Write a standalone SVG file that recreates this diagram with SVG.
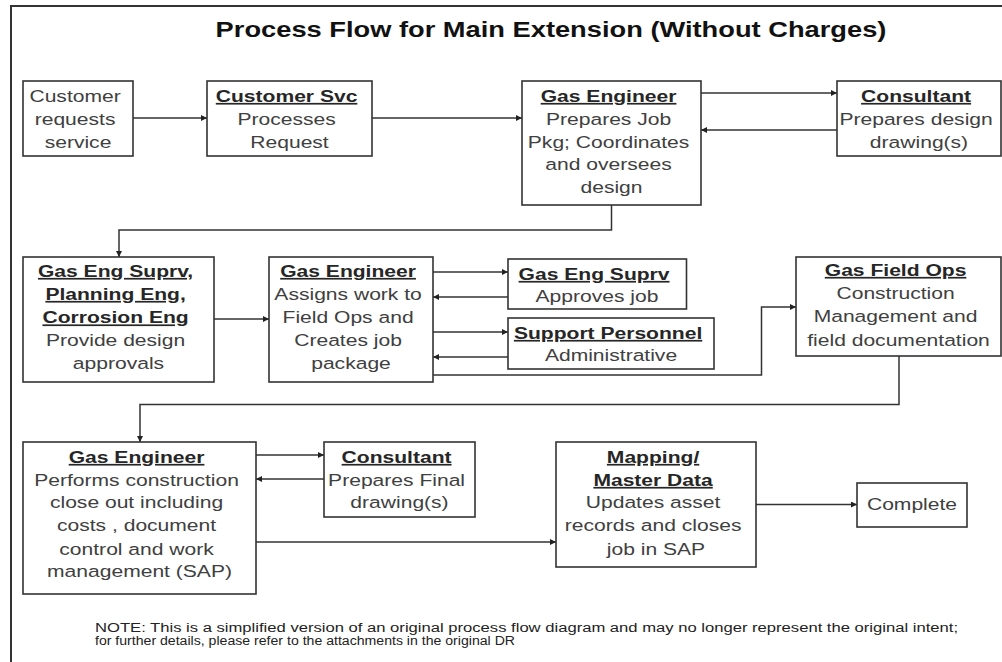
<svg xmlns="http://www.w3.org/2000/svg" width="1002" height="662" viewBox="0 0 1002 662">
  <style>
    .frame { fill: none; stroke: #333; stroke-width: 2; }
    .box { fill: #fff; stroke: #333; stroke-width: 1.6; }
    .t { font-family: "Liberation Sans", Arial, sans-serif; font-size: 17px; fill: #404040; text-anchor: middle; }
    .h { font-weight: bold; text-decoration: underline; fill: #262626; }
    .title { font-family: "Liberation Sans", Arial, sans-serif; font-size: 22px; font-weight: bold; fill: #111; text-anchor: middle; }
    .note { font-family: "Liberation Sans", Arial, sans-serif; font-size: 12.5px; fill: #222; }
    .link { fill: none; stroke: #333; stroke-width: 1.5; marker-end: url(#arrow); }
  </style>
  <defs>
    <marker id="arrow" viewBox="0 0 10 10" refX="10" refY="5" markerUnits="userSpaceOnUse" markerWidth="9" markerHeight="6" orient="auto">
      <path d="M0,0 L10,5 L0,10 z" fill="#222"/>
    </marker>
  </defs>

  <rect width="1002" height="662" fill="#fff"/>
  <path class="frame" d="M11,662 V6 H1002"/>

  <text class="title" transform="translate(551 0) scale(1.24 1)"><tspan x="0" y="37">Process Flow for Main Extension (Without Charges)</tspan></text>

  <!-- connectors -->
  <g id="connectors">
    <path class="link" d="M133,118 H207"/>
    <path class="link" d="M372,118 H522"/>
    <path class="link" d="M701,93 H837"/>
    <path class="link" d="M837,130 H701"/>
    <path class="link" d="M611.5,205 V230 H119 V257"/>
    <path class="link" d="M214,319 H269"/>
    <path class="link" d="M433,272 H508"/>
    <path class="link" d="M508,297 H433"/>
    <path class="link" d="M433,332 H508"/>
    <path class="link" d="M508,357 H433"/>
    <path class="link" d="M433,375 H761.5 V307 H796"/>
    <path class="link" d="M899,356 V404.5 H140 V442"/>
    <path class="link" d="M256,455 H324"/>
    <path class="link" d="M324,479 H256"/>
    <path class="link" d="M256,542 H556"/>
    <path class="link" d="M756,504.5 H857"/>
  </g>

  <g id="customer-request">
    <rect class="box" x="23" y="81" width="110" height="75"/>
    <text class="t" transform="translate(78 0) scale(1.24 1)">
      <tspan x="0" y="102.5">Customer</tspan>
      <tspan x="0" y="125.5">requests</tspan>
      <tspan x="0" y="148.5">service</tspan>
    </text>
  </g>

  <g id="customer-svc">
    <rect class="box" x="207" y="81" width="165" height="75"/>
    <text class="t" transform="translate(289.5 0) scale(1.24 1)">
      <tspan class="h" x="0" y="102">Customer Svc</tspan>
      <tspan x="0" y="125">Processes</tspan>
      <tspan x="0" y="148">Request</tspan>
    </text>
  </g>

  <g id="gas-engineer-design">
    <rect class="box" x="522" y="81" width="179" height="124"/>
    <text class="t" transform="translate(611.5 0) scale(1.24 1)">
      <tspan class="h" x="0" y="102">Gas Engineer</tspan>
      <tspan x="0" y="125">Prepares Job</tspan>
      <tspan x="0" y="148">Pkg; Coordinates</tspan>
      <tspan x="0" y="170.5">and oversees</tspan>
      <tspan x="0" y="193">design</tspan>
    </text>
  </g>

  <g id="consultant-design">
    <rect class="box" x="837" y="81" width="164" height="75"/>
    <text class="t" transform="translate(919 0) scale(1.24 1)">
      <tspan class="h" x="0" y="102">Consultant</tspan>
      <tspan x="0" y="125">Prepares design</tspan>
      <tspan x="0" y="148">drawing(s)</tspan>
    </text>
  </g>

  <g id="design-approvals">
    <rect class="box" x="23" y="257" width="191" height="125"/>
    <text class="t" transform="translate(118.5 0) scale(1.24 1)">
      <tspan class="h" x="0" y="277">Gas Eng Suprv,</tspan>
      <tspan class="h" x="0" y="300">Planning Eng,</tspan>
      <tspan class="h" x="0" y="323.5">Corrosion Eng</tspan>
      <tspan x="0" y="346.5">Provide design</tspan>
      <tspan x="0" y="369.5">approvals</tspan>
    </text>
  </g>

  <g id="gas-engineer-assign">
    <rect class="box" x="269" y="257" width="164" height="125"/>
    <text class="t" transform="translate(351 0) scale(1.24 1)">
      <tspan class="h" x="0" y="277">Gas Engineer</tspan>
      <tspan x="0" y="300">Assigns work to</tspan>
      <tspan x="0" y="323.5">Field Ops and</tspan>
      <tspan x="0" y="346.5">Creates job</tspan>
      <tspan x="0" y="369.5">package</tspan>
    </text>
  </g>

  <g id="gas-eng-suprv">
    <rect class="box" x="508" y="259" width="178.5" height="50"/>
    <text class="t" transform="translate(597 0) scale(1.24 1)">
      <tspan class="h" x="0" y="280">Gas Eng Suprv</tspan>
      <tspan x="0" y="302.5">Approves job</tspan>
    </text>
  </g>

  <g id="support-personnel">
    <rect class="box" x="508" y="318" width="206" height="51"/>
    <text class="t" transform="translate(611 0) scale(1.24 1)">
      <tspan class="h" x="0" y="339">Support Personnel</tspan>
      <tspan x="0" y="361">Administrative</tspan>
    </text>
  </g>

  <g id="gas-field-ops">
    <rect class="box" x="796" y="257" width="205" height="99"/>
    <text class="t" transform="translate(898.5 0) scale(1.24 1)">
      <tspan class="h" x="0" y="276">Gas Field Ops</tspan>
      <tspan x="0" y="299">Construction</tspan>
      <tspan x="0" y="322.5">Management and</tspan>
      <tspan x="0" y="346">field documentation</tspan>
    </text>
  </g>

  <g id="gas-engineer-closeout">
    <rect class="box" x="23" y="442" width="233" height="152"/>
    <text class="t" transform="translate(139.5 0) scale(1.24 1)">
      <tspan class="h" x="0" y="463">Gas Engineer</tspan>
      <tspan x="0" y="486">Performs construction</tspan>
      <tspan x="0" y="508.5">close out including</tspan>
      <tspan x="0" y="531.5">costs , document</tspan>
      <tspan x="0" y="555">control and work</tspan>
      <tspan x="0" y="577">management (SAP)</tspan>
    </text>
  </g>

  <g id="consultant-final">
    <rect class="box" x="324" y="442" width="151" height="75"/>
    <text class="t" transform="translate(399.5 0) scale(1.24 1)">
      <tspan class="h" x="0" y="463">Consultant</tspan>
      <tspan x="0" y="486">Prepares Final</tspan>
      <tspan x="0" y="508.5">drawing(s)</tspan>
    </text>
  </g>

  <g id="mapping-master-data">
    <rect class="box" x="556" y="442" width="200" height="125"/>
    <text class="t" transform="translate(656 0) scale(1.24 1)">
      <tspan class="h" x="0" y="463">Mapping/</tspan>
      <tspan class="h" x="0" y="486">Master Data</tspan>
      <tspan x="0" y="508.5">Updates asset</tspan>
      <tspan x="0" y="531.5">records and closes</tspan>
      <tspan x="0" y="555">job in SAP</tspan>
    </text>
  </g>

  <g id="complete">
    <rect class="box" x="857" y="483" width="110" height="44"/>
    <text class="t" transform="translate(912 0) scale(1.24 1)">
      <tspan x="0" y="510">Complete</tspan>
    </text>
  </g>

  <g id="note">
    <text class="note" x="95" y="632" textLength="863" lengthAdjust="spacingAndGlyphs">NOTE: This is a simplified version of an original process flow diagram and may no longer represent the original intent;</text>
    <text class="note" x="95" y="645" textLength="420" lengthAdjust="spacingAndGlyphs">for further details, please refer to the attachments in the original DR</text>
  </g>
</svg>
